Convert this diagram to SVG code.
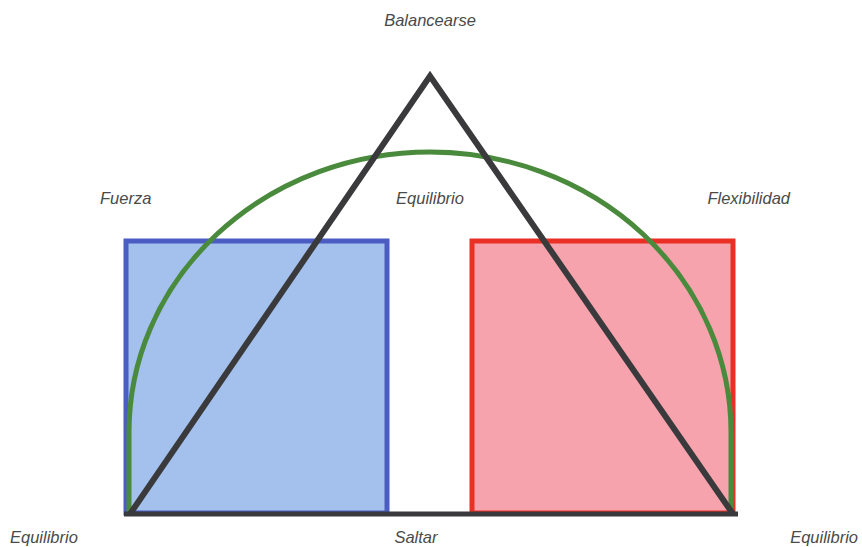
<svg xmlns="http://www.w3.org/2000/svg" width="862" height="547" viewBox="0 0 862 547">
<style>
.t{font-family:"Liberation Sans",Arial,sans-serif;font-style:italic;font-size:16.5px;fill:#4a4a4a}
</style>
<rect width="862" height="547" fill="#ffffff"/>
<g id="fuerza">
<rect x="126" y="241" width="261" height="272" fill="#a3c1ec" stroke="#4b5cc2" stroke-width="5"/>
</g>
<g id="flexibilidad">
<rect x="472" y="241" width="261" height="272" fill="#f7a3ae" stroke="#ea3024" stroke-width="5"/>
</g>
<g id="equilibrio-arc">
<path d="M129 514 L129 432 A301 280 0 0 1 731 432 L731 514" fill="none" stroke="#4a8a3c" stroke-width="5"/>
</g>
<g id="balancearse-triangle">
<path d="M130 514 L430 76 L733 514" fill="none" stroke="#3a3a3c" stroke-width="6" stroke-linejoin="miter"/>
</g>
<g id="connectors">
<line x1="124" y1="514" x2="738" y2="514" stroke="#3a3a3c" stroke-width="5"/>
</g>
<g id="labels">
<text class="t" x="430" y="26" text-anchor="middle">Balancearse</text>
<text class="t" x="100" y="204">Fuerza</text>
<text class="t" x="430" y="204" text-anchor="middle">Equilibrio</text>
<text class="t" x="790" y="204" text-anchor="end">Flexibilidad</text>
<text class="t" x="10" y="543">Equilibrio</text>
<text class="t" x="416" y="543" text-anchor="middle">Saltar</text>
<text class="t" x="858" y="543" text-anchor="end">Equilibrio</text>
</g>
</svg>
